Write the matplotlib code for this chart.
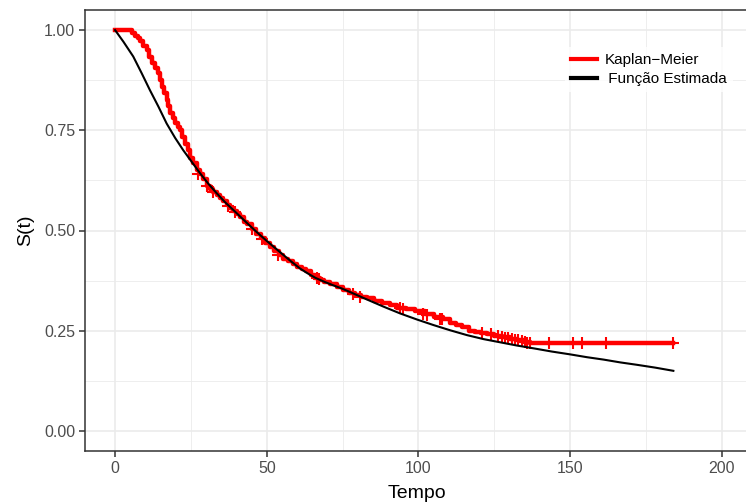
import matplotlib.pyplot as plt
from matplotlib.ticker import MultipleLocator

plt.rcParams['font.family'] = ['Liberation Sans', 'DejaVu Sans']

# Kaplan-Meier estimate (step function)
km_time = [0, 5.5, 6.5, 7.5, 8.2, 9.3, 10.4, 11.2, 12.1, 13.2, 14.3, 14.9, 15.4, 16.2,
           17.0, 17.6, 18.1, 19.0, 19.8, 20.6, 21.4, 22.2, 23.1, 23.9, 24.7, 25.8, 26.9,
           28.0, 29.1, 30.2, 31.3, 32.4, 33.5, 34.6, 35.7, 36.8, 38.0, 39.0, 40.1, 41.2,
           42.5, 43.5, 45.0, 46.5, 48.0, 49.5, 51.0, 52.5, 54.0, 55.5, 57.0, 58.5, 60.0,
           61.5, 63.0, 64.5, 66.0, 67.5, 69.0, 71.0, 73.0, 75.0, 77.0, 79.0, 81.0, 83.0,
           85.5, 88.0, 90.5, 93.0, 96.0, 99.0, 102.0, 105.0, 108.0, 110.5, 112.5, 114.5,
           116.5, 118.5, 120.5, 122.5, 125.0, 127.5, 130.0, 132.5, 135.0, 136.7, 184.0]
km_surv = [1.0, 0.993, 0.986, 0.98, 0.972, 0.96, 0.95, 0.934, 0.917, 0.905, 0.892, 0.875,
           0.859, 0.842, 0.825, 0.81, 0.793, 0.78, 0.767, 0.758, 0.75, 0.733, 0.717, 0.70,
           0.68, 0.668, 0.652, 0.64, 0.628, 0.612, 0.603, 0.595, 0.588, 0.58, 0.573, 0.564,
           0.555, 0.548, 0.54, 0.534, 0.522, 0.515, 0.503, 0.492, 0.481, 0.47, 0.46, 0.448,
           0.438, 0.43, 0.423, 0.417, 0.41, 0.405, 0.40, 0.39, 0.382, 0.376, 0.371, 0.366,
           0.36, 0.352, 0.345, 0.34, 0.335, 0.331, 0.325, 0.319, 0.313, 0.307, 0.303, 0.298,
           0.291, 0.285, 0.279, 0.27, 0.265, 0.259, 0.25, 0.247, 0.245, 0.242, 0.238, 0.234,
           0.23, 0.227, 0.223, 0.219, 0.219]

# censored observations (+)
cens_time = [27.5, 30.2, 32.4, 37.3, 39.5, 45.0, 48.3, 53.8, 66.4, 67.2, 78.5, 80.7, 93.9,
             95.0, 101.6, 102.7, 107.1, 107.6, 121.1, 123.8, 126.3, 127.4, 128.5, 129.6,
             130.7, 131.8, 132.9, 134.0, 135.1, 135.9, 136.7, 143.0, 151.0, 154.0, 161.8, 184.0]
cens_surv = [0.642, 0.612, 0.595, 0.56, 0.545, 0.503, 0.48, 0.438, 0.382, 0.378, 0.341,
             0.335, 0.307, 0.305, 0.292, 0.29, 0.28, 0.279, 0.244, 0.241, 0.237, 0.235,
             0.233, 0.232, 0.23, 0.228, 0.226, 0.224, 0.222, 0.22, 0.219, 0.219, 0.219,
             0.219, 0.219, 0.219]

# fitted survival function
fit_time = [0, 2.75, 6, 8.8, 11.5, 14.3, 17, 19.8, 22.5, 25.3, 28, 30.7, 33.5, 36.2, 39,
            41.5, 44, 47, 50, 52.5, 55, 58, 61, 63.5, 66, 69, 72, 74.5, 77, 80, 83, 88.5,
            94, 99.5, 105, 110.5, 116, 121.5, 127, 132.5, 138, 144, 150, 155.5, 161, 166.5,
            172, 178, 184]
fit_surv = [1.0, 0.971, 0.934, 0.892, 0.850, 0.809, 0.767, 0.731, 0.700, 0.671, 0.643,
            0.617, 0.593, 0.571, 0.551, 0.533, 0.515, 0.494, 0.474, 0.458, 0.442, 0.423,
            0.405, 0.393, 0.382, 0.372, 0.363, 0.356, 0.348, 0.338, 0.328, 0.31, 0.293,
            0.278, 0.264, 0.251, 0.239, 0.229, 0.221, 0.213, 0.206, 0.198, 0.191, 0.184,
            0.178, 0.171, 0.165, 0.158, 0.150]

fig = plt.figure(figsize=(7.46, 5.03), dpi=100)
ax = fig.add_axes([85 / 746, 52 / 503, 663 / 746, 441 / 503])

ax.step(km_time, km_surv, where='post', color='#FF0000', lw=3.2, label='Kaplan\u2212Meier', zorder=3)
ax.plot(cens_time, cens_surv, ls='none', marker='+', ms=8.5, mew=1.5, color='#FF0000', zorder=3)
ax.plot(fit_time, fit_surv, color='black', lw=1.5, label=' Função Estimada', zorder=4)

ax.set_xlim(-9.9, 208.6)
ax.set_ylim(-0.05, 1.05)
ax.xaxis.set_major_locator(MultipleLocator(50))
ax.xaxis.set_minor_locator(MultipleLocator(25))
ax.yaxis.set_major_locator(MultipleLocator(0.25))
ax.yaxis.set_minor_locator(MultipleLocator(0.125))
ax.yaxis.set_major_formatter(plt.FormatStrFormatter('%.2f'))

ax.grid(which='major', color='#EBEBEB', lw=1.2)
ax.grid(which='minor', color='#EBEBEB', lw=0.6)
ax.set_axisbelow(True)
ax.tick_params(which='major', length=4, width=1.1, color='#333333', labelcolor='#4D4D4D',
               labelsize=11.5, pad=3)
ax.tick_params(which='minor', length=0)
for s in ax.spines.values():
    s.set_color('#333333')
    s.set_linewidth(1.1)

ax.set_xlabel('Tempo', fontsize=14, labelpad=7)
ax.set_ylabel('S(t)', fontsize=14, labelpad=7)

leg = ax.legend(loc='upper left', bbox_to_anchor=(0.713, 0.933), frameon=True, fontsize=11,
                handlelength=1.7, handletextpad=0.45, borderpad=0.4, labelspacing=0.3)
leg.get_frame().set_edgecolor('none')
leg.get_frame().set_facecolor('white')
leg.get_frame().set_boxstyle('square', pad=0.0)
for line in leg.get_lines():
    line.set_linewidth(3)

fig.savefig('out.png', dpi=100)
